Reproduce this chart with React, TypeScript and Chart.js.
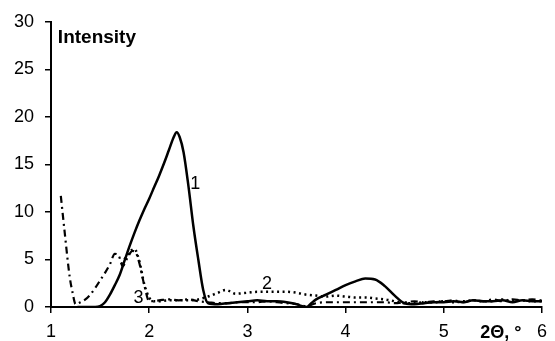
import React, { useEffect, useRef } from "react";
import { Chart, registerables } from "chart.js";

Chart.register(...registerables);

const xTicks = [1, 2, 3, 4, 5, 6];
const yTicks = [0, 5, 10, 15, 20, 25, 30];

const solidX = [1.27, 1.35, 1.45, 1.5, 1.55, 1.6, 1.65, 1.7, 1.75, 1.8, 1.85, 1.9, 1.95, 2.0, 2.05, 2.1, 2.15, 2.2, 2.25, 2.28, 2.31, 2.35, 2.4, 2.45, 2.5, 2.55, 2.6, 2.7, 2.8, 2.9, 3.0, 3.1, 3.2, 3.3, 3.4, 3.5, 3.55, 3.6, 3.65, 3.7, 3.8, 3.9, 4.0, 4.1, 4.2, 4.3, 4.4, 4.5, 4.6, 4.7, 4.8, 4.9, 5.0, 5.1, 5.2, 5.3, 5.4, 5.5, 5.6, 5.7, 5.8, 5.9, 6.0];
const solidY = [0, 0, 0, 0.1, 0.5, 1.3, 2.3, 3.4, 4.9, 6.4, 7.8, 9.1, 10.3, 11.4, 12.6, 13.8, 15.1, 16.5, 17.9, 18.4, 17.9, 16.3, 12.7, 8.5, 5.0, 1.8, 0.4, 0.3, 0.4, 0.5, 0.6, 0.7, 0.6, 0.6, 0.5, 0.3, 0.1, 0.0, 0.4, 0.8, 1.3, 1.8, 2.3, 2.7, 3.0, 2.9, 2.2, 1.2, 0.4, 0.3, 0.4, 0.5, 0.5, 0.6, 0.5, 0.7, 0.6, 0.6, 0.7, 0.5, 0.7, 0.6, 0.6];

const dottedX = [1.72, 1.76, 1.8, 1.85, 1.9, 1.95, 2.0, 2.05, 2.1, 2.2, 2.3, 2.4, 2.5, 2.6, 2.7, 2.78, 2.88, 3.0, 3.1, 3.2, 3.3, 3.4, 3.5, 3.6, 3.7, 3.8, 3.9, 4.0, 4.1, 4.2, 4.3, 4.4, 4.5, 4.6, 4.7, 4.8, 4.9, 5.0, 5.1, 5.2, 5.3, 5.4, 5.5, 5.6, 5.7, 5.8, 5.9, 6.0];
const dottedY = [4.5, 5.2, 5.8, 6.1, 4.8, 2.4, 1.0, 0.6, 0.6, 0.7, 0.7, 0.7, 0.8, 1.1, 1.5, 1.8, 1.4, 1.5, 1.6, 1.6, 1.6, 1.6, 1.5, 1.3, 1.2, 1.1, 1.2, 1.1, 1.0, 1.0, 0.9, 0.8, 0.6, 0.4, 0.4, 0.5, 0.5, 0.6, 0.5, 0.6, 0.7, 0.6, 0.6, 0.8, 0.6, 0.7, 0.6, 0.6];

const dashDotX = [1.1, 1.14, 1.19, 1.22, 1.25, 1.3, 1.35, 1.4, 1.45, 1.5, 1.55, 1.6, 1.65, 1.69, 1.73, 1.78, 1.83, 1.87, 1.9, 1.95, 2.0, 2.1, 2.2, 2.3, 2.4, 2.5, 2.6, 2.7, 2.8, 2.9, 3.0, 3.1, 3.2, 3.3, 3.4, 3.5, 3.6, 3.7, 3.8, 3.9, 4.0, 4.1, 4.2, 4.3, 4.4, 4.5, 4.6, 4.7, 4.8, 4.9, 5.0, 5.1, 5.2, 5.3, 5.4, 5.5, 5.6, 5.7, 5.8, 5.9, 6.0];
const dashDotY = [11.7, 7.8, 3.2, 1.5, 0.3, 0.5, 0.8, 1.3, 2.0, 2.8, 3.6, 4.5, 5.6, 5.4, 4.3, 5.2, 5.9, 5.6, 4.6, 2.3, 0.6, 0.7, 0.8, 0.7, 0.8, 0.6, 0.5, 0.4, 0.4, 0.5, 0.5, 0.5, 0.6, 0.5, 0.4, 0.3, 0.1, 0.4, 0.5, 0.5, 0.5, 0.5, 0.5, 0.5, 0.5, 0.4, 0.5, 0.6, 0.5, 0.6, 0.6, 0.7, 0.5, 0.7, 0.6, 0.8, 0.6, 0.8, 0.7, 0.8, 0.7];

const seriesLabels = ["1", "2", "3"];
const yTitle = "Intensity";
const xTitle = "2Θ, °";

const toPoints = (xs: number[], ys: number[]) => xs.map((x, i) => ({ x, y: ys[i] }));

const textPlugin = {
  id: "annotText",
  afterDatasetsDraw(chart: any) {
    const ctx = chart.ctx;
    const xs = chart.scales.x;
    const ys = chart.scales.y;
    ctx.save();
    ctx.fillStyle = "#000";
    ctx.textBaseline = "middle";
    ctx.textAlign = "left";
    ctx.font = "bold 19px 'Liberation Sans', Arial, sans-serif";
    ctx.fillText(yTitle, xs.getPixelForValue(1.07), ys.getPixelForValue(28.3));
    ctx.textAlign = "center";
    ctx.font = "18px 'Liberation Sans', Arial, sans-serif";
    ctx.fillText(seriesLabels[0], xs.getPixelForValue(2.47), ys.getPixelForValue(12.9));
    ctx.fillText(seriesLabels[1], xs.getPixelForValue(3.2), ys.getPixelForValue(2.4));
    ctx.fillText(seriesLabels[2], xs.getPixelForValue(1.89), ys.getPixelForValue(0.9));
    ctx.font = "bold 18px 'Liberation Sans', Arial, sans-serif";
    ctx.fillText(xTitle, xs.getPixelForValue(5.58), 333);
    ctx.restore();
  },
};

export default function App() {
  const ref = useRef<HTMLCanvasElement | null>(null);
  useEffect(() => {
    if (!ref.current) return;
    const font = { family: "'Liberation Sans', Arial, sans-serif", size: 18 };
    const chart = new Chart(ref.current, {
      type: "line",
      data: {
        datasets: [
          {
            label: seriesLabels[0],
            data: toPoints(solidX, solidY),
            borderColor: "#000",
            borderWidth: 2.5,
            pointRadius: 0,
            cubicInterpolationMode: "monotone",
          },
          {
            label: seriesLabels[1],
            data: toPoints(dottedX, dottedY),
            borderColor: "#000",
            borderWidth: 2.5,
            borderDash: [2, 3.5],
            pointRadius: 0,
            cubicInterpolationMode: "monotone",
          },
          {
            label: seriesLabels[2],
            data: toPoints(dashDotX, dashDotY),
            borderColor: "#000",
            borderWidth: 2.2,
            borderDash: [7, 4, 2, 4],
            pointRadius: 0,
            cubicInterpolationMode: "monotone",
          },
        ],
      },
      options: {
        animation: false,
        responsive: false,
        layout: { padding: { top: 22, right: 8, left: 0, bottom: 0 } },
        plugins: { legend: { display: false }, tooltip: { enabled: false } },
        scales: {
          x: {
            type: "linear",
            min: 1,
            max: 6,
            afterBuildTicks: (s: any) => {
              s.ticks = xTicks.map((v) => ({ value: v }));
            },
            afterFit: (s: any) => {
              s.height = 34;
            },
            ticks: { color: "#000", font, padding: 8, maxRotation: 0 },
            grid: { display: true, drawOnChartArea: false, drawTicks: true, tickLength: 6, color: "#000", lineWidth: 1.5 },
            border: { display: true, color: "#000", width: 2 },
          },
          y: {
            type: "linear",
            min: 0,
            max: 30,
            afterBuildTicks: (s: any) => {
              s.ticks = yTicks.map((v) => ({ value: v }));
            },
            afterFit: (s: any) => {
              s.width = 51;
            },
            ticks: { color: "#000", font, padding: 11 },
            grid: { display: true, drawOnChartArea: false, drawTicks: true, tickLength: 6, color: "#000", lineWidth: 1.5 },
            border: { display: true, color: "#000", width: 2 },
          },
        },
      },
      plugins: [textPlugin],
    } as any);
    return () => chart.destroy();
  }, []);
  return (
    <div style={{ position: "absolute", left: 0, top: 0, width: 555, height: 341, background: "#fff" }}>
      <canvas ref={ref} width={555} height={341} style={{ display: "block", width: 555, height: 341 }} />
    </div>
  );
}
